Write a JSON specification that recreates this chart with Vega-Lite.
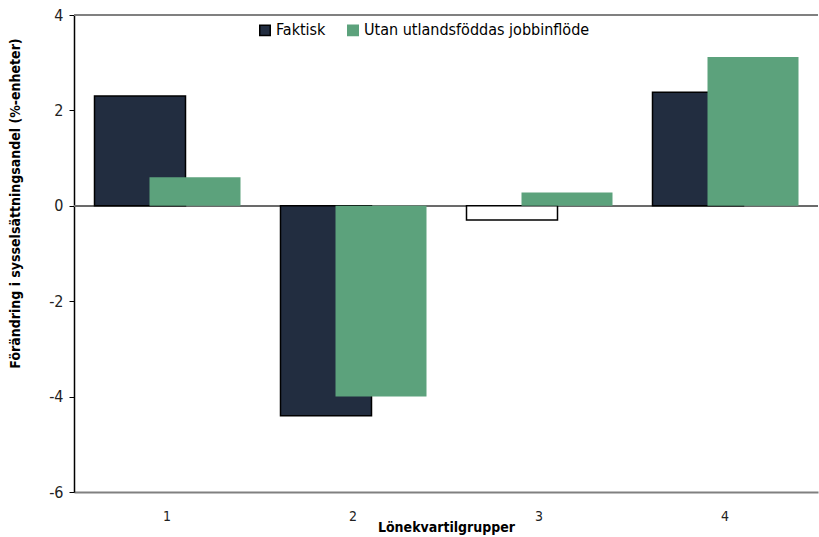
{
  "$schema": "https://vega.github.io/schema/vega-lite/v6.json",
  "autosize": "none",
  "width": 744,
  "height": 477,
  "padding": {"left": 74, "top": 15, "right": 1, "bottom": 45},
  "background": "white",
  "config": {
    "font": "'DejaVu Sans Condensed', 'Liberation Sans', sans-serif",
    "view": {"stroke": null}
  },
  "data": {
    "values": [
      {"grupp": "1", "serie": "Faktisk", "varde": 2.3},
      {"grupp": "1", "serie": "Utan utlandsföddas jobbinflöde", "varde": 0.6},
      {"grupp": "2", "serie": "Faktisk", "varde": -4.4},
      {"grupp": "2", "serie": "Utan utlandsföddas jobbinflöde", "varde": -4.0},
      {"grupp": "3", "serie": "Faktisk", "varde": -0.3},
      {"grupp": "3", "serie": "Utan utlandsföddas jobbinflöde", "varde": 0.28},
      {"grupp": "4", "serie": "Faktisk", "varde": 2.38},
      {"grupp": "4", "serie": "Utan utlandsföddas jobbinflöde", "varde": 3.12}
    ]
  },
  "encoding": {
    "x": {
      "field": "grupp", "type": "nominal",
      "scale": {"paddingInner": 0, "paddingOuter": 0},
      "axis": {
        "title": "Lönekvartilgrupper", "titleFontWeight": "bold", "titleFontSize": 14,
        "titleColor": "#000", "titlePadding": -3,
        "labelAngle": 0, "labelFontSize": 14, "labelColor": "#222", "labelPadding": 17,
        "ticks": false, "domainColor": "#808080", "domainWidth": 2
      }
    },
    "y": {
      "field": "varde", "type": "quantitative",
      "scale": {"domain": [-6, 4], "nice": false, "zero": false},
      "axis": {
        "title": "Förändring i sysselsättningsandel (%-enheter)", "titleFontWeight": "bold",
        "titleFontSize": 14, "titleColor": "#000", "titlePadding": 26, "titleY": 188,
        "values": [-6, -4, -2, 0, 2, 4], "grid": false,
        "labelExpr": "toString(datum.value)",
        "labelFontSize": 16, "labelColor": "#222", "labelPadding": 6,
        "tickSize": 5, "tickColor": "#000", "domainColor": "#000", "domainWidth": 1.5
      }
    }
  },
  "layer": [
    {
      "mark": {"type": "rule", "color": "#808080", "strokeWidth": 2},
      "encoding": {"y": {"datum": 4}, "x": null}
    },
    {
      "mark": {"type": "rule", "color": "#6b6b6b", "strokeWidth": 1.5},
      "encoding": {"y": {"datum": 0}, "x": null}
    },
    {
      "transform": [{"filter": "datum.serie == 'Faktisk'"}],
      "mark": {"type": "bar", "width": 91, "xOffset": -27, "strokeWidth": 1.5},
      "encoding": {
        "fill": {
          "condition": {"test": "datum.grupp == '3'", "value": "white"},
          "field": "serie", "type": "nominal",
          "scale": {"domain": ["Faktisk", "Utan utlandsföddas jobbinflöde"], "range": ["#222d40", "#5ca27c"]},
          "legend": {
            "title": null, "orient": "none", "direction": "horizontal",
            "legendX": 183, "legendY": 7, "symbolType": "square", "symbolSize": 110,
            "labelFontSize": 16, "labelColor": "#000", "symbolOffset": 0, "labelLimit": 400,
            "columnPadding": 18, "labelOffset": 3, "symbolStrokeWidth": 1.5
          }
        },
        "stroke": {
          "field": "serie", "type": "nominal",
          "scale": {"domain": ["Faktisk", "Utan utlandsföddas jobbinflöde"], "range": ["#000000", "#5ca27c"]},
          "legend": null
        }
      }
    },
    {
      "transform": [{"filter": "datum.serie != 'Faktisk'"}],
      "mark": {"type": "bar", "width": 91, "xOffset": 28, "strokeWidth": 0},
      "encoding": {
        "fill": {"field": "serie", "type": "nominal"}
      }
    }
  ]
}
